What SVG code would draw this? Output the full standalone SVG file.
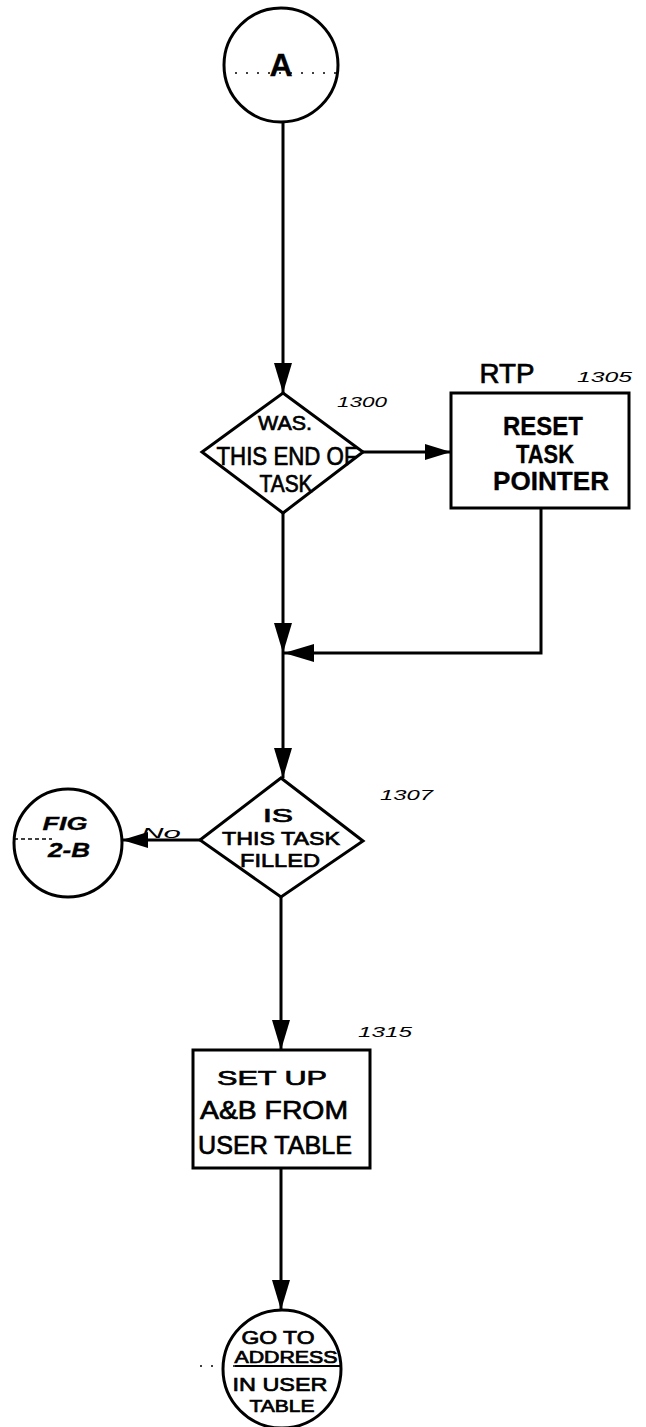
<svg xmlns="http://www.w3.org/2000/svg" width="646" height="1427" viewBox="0 0 646 1427">
<style>
.shape{fill:none;stroke:#000;stroke-width:3}
.conn{fill:none;stroke:#000;stroke-width:3}
.t{font-family:"Liberation Sans",Arial,sans-serif;fill:#000;stroke:#000;stroke-width:0.7;text-anchor:middle}
.b{font-weight:bold;stroke-width:0.3}
.num{font-family:"Liberation Sans",Arial,sans-serif;font-style:italic;fill:#000;font-size:15px}
.dot{stroke:#000;stroke-width:1.5;stroke-dasharray:2 9;fill:none}
</style>
<defs>
<marker id="ah" viewBox="0 0 30 18" refX="30" refY="9" markerWidth="30" markerHeight="18" orient="auto" markerUnits="userSpaceOnUse">
<path d="M0,0 L30,9 L0,18 Z" fill="#000"/>
</marker>
<marker id="ahs" viewBox="0 0 26 16" refX="26" refY="8" markerWidth="26" markerHeight="16" orient="auto" markerUnits="userSpaceOnUse">
<path d="M0,0 L26,8 L0,16 Z" fill="#000"/>
</marker>
</defs>
<rect width="646" height="1427" fill="#fff"/>

<g id="connectors">
<path class="conn" d="M283,123 V393" marker-end="url(#ah)"/>
<path class="conn" d="M363,452 H451" marker-end="url(#ahs)"/>
<path class="conn" d="M283,513 V653" marker-end="url(#ah)"/>
<path class="conn" d="M541,508 V653 H284" marker-end="url(#ah)"/>
<path class="conn" d="M283,653 V778" marker-end="url(#ah)"/>
<path class="conn" d="M200,840 H122" marker-end="url(#ahs)"/>
<path class="conn" d="M281,897 V1050" marker-end="url(#ah)"/>
<path class="conn" d="M281,1168 V1310" marker-end="url(#ah)"/>
<text class="num" x="161" y="838" text-anchor="middle" font-size="16" textLength="40" lengthAdjust="spacingAndGlyphs">No</text>
</g>

<g id="node-A">
<circle class="shape" cx="281" cy="65" r="57"/>
<line class="dot" x1="224" y1="73" x2="340" y2="73"/>
<text class="t b" x="281" y="76" font-size="32">A</text>
</g>

<g id="node-1300">
<polygon class="shape" points="283,393 363,452 283,513 202,452"/>
<text class="t" x="285" y="430" font-size="21" textLength="54" lengthAdjust="spacingAndGlyphs">WAS.</text>
<text class="t" x="287" y="465" font-size="25" textLength="141" lengthAdjust="spacingAndGlyphs">THIS END OF</text>
<text class="t" x="286" y="492" font-size="24" textLength="53" lengthAdjust="spacingAndGlyphs">TASK</text>
<text class="num" x="337" y="407" textLength="50" lengthAdjust="spacingAndGlyphs">1300</text>
</g>

<g id="node-1305">
<rect class="shape" x="451" y="393" width="178" height="115"/>
<text class="t" x="507" y="383" text-anchor="start" font-size="28" textLength="55" lengthAdjust="spacingAndGlyphs">RTP</text>
<text class="num" x="577" y="382" textLength="55" lengthAdjust="spacingAndGlyphs">1305</text>
<text class="t b" x="543" y="435" font-size="25" textLength="80" lengthAdjust="spacingAndGlyphs">RESET</text>
<text class="t b" x="545" y="463" font-size="25" textLength="58" lengthAdjust="spacingAndGlyphs">TASK</text>
<text class="t b" x="551" y="490" font-size="25" textLength="116" lengthAdjust="spacingAndGlyphs">POINTER</text>
</g>

<g id="node-1307">
<polygon class="shape" points="281,778 363,841 281,897 200,840"/>
<text class="t" x="278" y="822" font-size="18" textLength="30" lengthAdjust="spacingAndGlyphs">IS</text>
<text class="t" x="281" y="845" font-size="19" textLength="118" lengthAdjust="spacingAndGlyphs">THIS TASK</text>
<text class="t" x="280" y="867" font-size="19" textLength="80" lengthAdjust="spacingAndGlyphs">FILLED</text>
<text class="num" x="380" y="800" textLength="53" lengthAdjust="spacingAndGlyphs">1307</text>
</g>

<g id="node-fig2b">
<circle class="shape" cx="68" cy="843" r="54"/>
<line x1="14" y1="839" x2="52" y2="839" stroke="#000" stroke-width="1.5" stroke-dasharray="4 3"/>
<text class="t b" x="65" y="830" font-size="18" font-style="italic" textLength="45" lengthAdjust="spacingAndGlyphs">FIG</text>
<text class="t b" x="69" y="857" font-size="20" font-style="italic" textLength="42" lengthAdjust="spacingAndGlyphs">2-B</text>
</g>

<g id="node-1315">
<rect class="shape" x="193" y="1050" width="177" height="118"/>
<text class="num" x="358" y="1037" font-size="16" textLength="54" lengthAdjust="spacingAndGlyphs">1315</text>
<text class="t" x="272" y="1085" font-size="21" textLength="110" lengthAdjust="spacingAndGlyphs">SET UP</text>
<text class="t" x="274" y="1119" font-size="26" textLength="148" lengthAdjust="spacingAndGlyphs">A&amp;B FROM</text>
<text class="t" x="275" y="1154" font-size="26" textLength="154" lengthAdjust="spacingAndGlyphs">USER TABLE</text>
</g>

<g id="node-goto">
<circle class="shape" cx="282" cy="1369" r="59"/>
<line class="dot" x1="200" y1="1366" x2="342" y2="1366"/>
<text class="t" x="278" y="1344" font-size="18" textLength="73" lengthAdjust="spacingAndGlyphs">GO TO</text>
<text class="t" x="286" y="1363" font-size="16" textLength="103" lengthAdjust="spacingAndGlyphs">ADDRESS</text>
<line x1="235" y1="1366" x2="340" y2="1366" stroke="#000" stroke-width="2"/>
<text class="t" x="280" y="1391" font-size="19" textLength="95" lengthAdjust="spacingAndGlyphs">IN USER</text>
<text class="t" x="282" y="1412" font-size="17" textLength="65" lengthAdjust="spacingAndGlyphs">TABLE</text>
</g>
</svg>
